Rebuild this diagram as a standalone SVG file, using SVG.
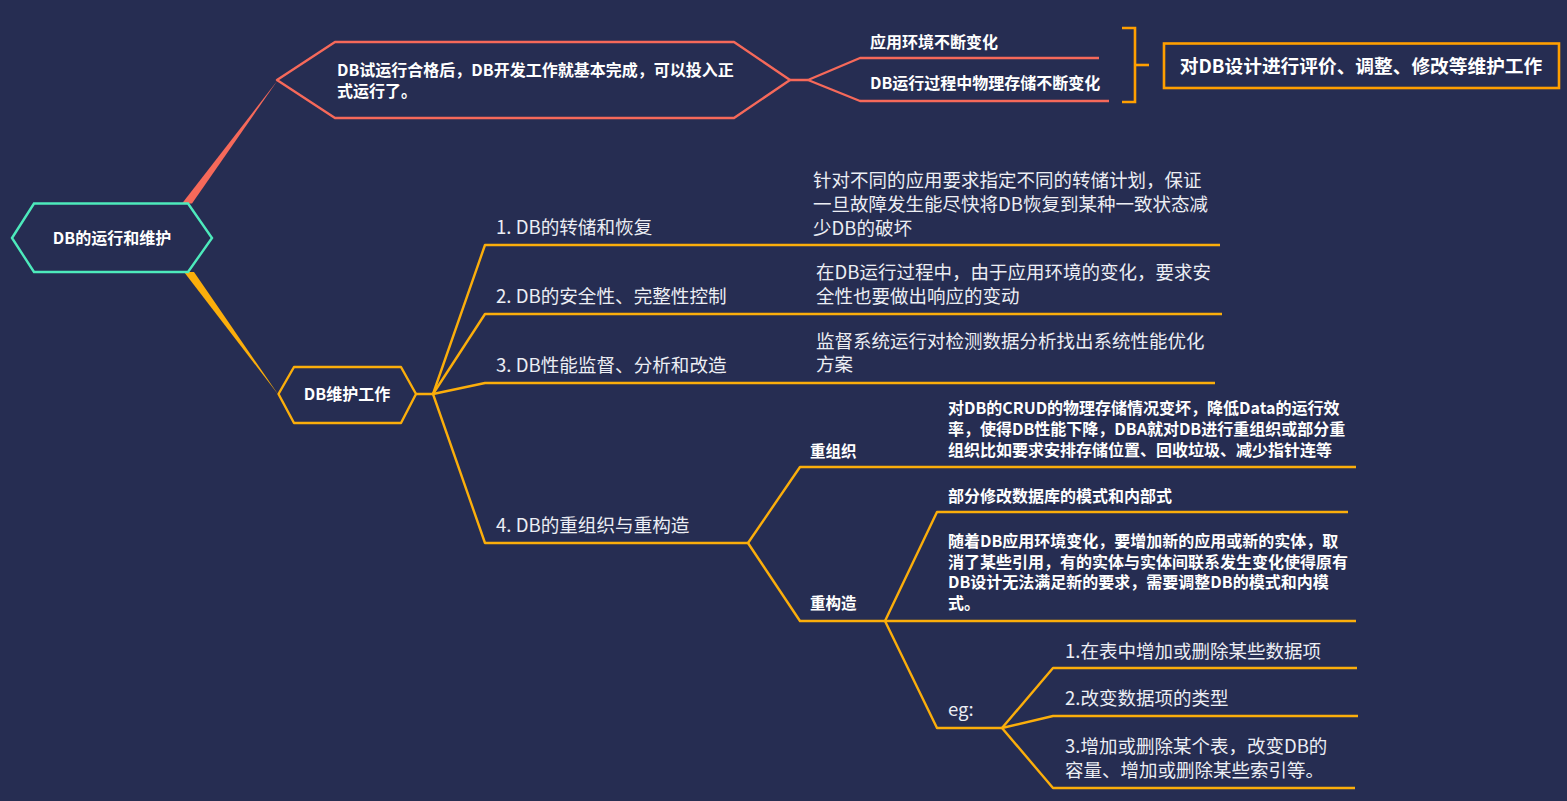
<svg xmlns="http://www.w3.org/2000/svg" width="1567" height="801" viewBox="0 0 1567 801">
<style>
.t{font-family:'Noto Sans CJK SC','Noto Sans',sans-serif;fill:#ffffff}
.b{font-weight:700}
.r{fill:#eceef4}
.ol{fill:none;stroke:#fbae0b;stroke-width:2.4;stroke-linejoin:round}
.rl{fill:none;stroke:#f6695a;stroke-width:2.4;stroke-linejoin:round}
.box{fill:none;stroke:#ff9f00;stroke-width:2.6}
</style>
<rect width="1567" height="801" fill="#262d52"/>
<g id="connectors">
<polygon points="182,203.5 192,203.5 277.5,80.5" fill="#f6695a"/>
<polygon points="184,272 194,272 278.5,395" fill="#fbae0b"/>
<polyline class="rl" points="790,80 808,80 860,58 1099,58"/>
<polyline class="rl" points="808,80 860,101 1109,101"/>
<polyline class="ol" points="416,394 433,394 485,245 1220,245"/>
<polyline class="ol" points="433,394 485,314 1222,314"/>
<polyline class="ol" points="433,394 485,383 1215,383"/>
<polyline class="ol" points="433,394 485,543 748,543"/>
<polyline class="ol" points="748,543 800,467 1356,467"/>
<polyline class="ol" points="748,543 800,621 1356,621"/>
<polyline class="ol" points="885,621 937,512 1348,512"/>
<polyline class="ol" points="885,621 937,728 1002,728"/>
<polyline class="ol" points="1002,728 1053,668 1357,668"/>
<polyline class="ol" points="1002,728 1053,716 1358,716"/>
<polyline class="ol" points="1002,728 1053,788 1355,788"/>
<polyline class="box" points="1122,28 1135,28 1135,102 1122,102"/>
<line class="box" x1="1135" y1="65" x2="1149" y2="65"/>
</g>
<g id="root">
<polygon points="12,238 34,203.5 188,203.5 212,238 188,272 34,272" fill="#262d52" stroke="#4deabc" stroke-width="2.4"/>
<text class="t b" x="112" y="243.5" font-size="16" text-anchor="middle">DB的运行和维护</text>
</g>
<g id="trial">
<polygon points="277,80 335,42 734,42 790,80 734,118 335,118" fill="#262d52" class="rl"/>
<text class="t b" x="337" y="75.5" font-size="16">DB试运行合格后，DB开发工作就基本完成，可以投入正</text>
<text class="t b" x="337" y="96.5" font-size="16">式运行了。</text>
</g>
<g id="env">
<text class="t b" x="870" y="48" font-size="16">应用环境不断变化</text>
</g>
<g id="storage">
<text class="t b" x="870" y="89" font-size="16">DB运行过程中物理存储不断变化</text>
</g>
<g id="maint-box">
<rect x="1164" y="43.5" width="395" height="44.5" class="box"/>
<text class="t b" x="1361" y="72.5" font-size="18.7" text-anchor="middle">对DB设计进行评价、调整、修改等维护工作</text>
</g>
<g id="maint">
<polygon points="278.5,394 294,367 401,367 416,394 401,423 294,423" fill="#262d52" class="ol"/>
<text class="t b" x="347" y="399.5" font-size="16" text-anchor="middle">DB维护工作</text>
</g>
<g id="item1">
<text class="t r" x="496" y="234" font-size="18.6">1. DB的转储和恢复</text>
</g>
<g id="desc1">
<text class="t r" x="813" y="186.5" font-size="18.5">针对不同的应用要求指定不同的转储计划，保证</text>
<text class="t r" x="813" y="210.5" font-size="18.5">一旦故障发生能尽快将DB恢复到某种一致状态减</text>
<text class="t r" x="813" y="234.5" font-size="18.5">少DB的破坏</text>
</g>
<g id="item2">
<text class="t r" x="496" y="302.5" font-size="18.6">2. DB的安全性、完整性控制</text>
</g>
<g id="desc2">
<text class="t r" x="816" y="279" font-size="18.5">在DB运行过程中，由于应用环境的变化，要求安</text>
<text class="t r" x="816" y="302.5" font-size="18.5">全性也要做出响应的变动</text>
</g>
<g id="item3">
<text class="t r" x="496" y="371.5" font-size="18.6">3. DB性能监督、分析和改造</text>
</g>
<g id="desc3">
<text class="t r" x="816" y="348" font-size="18.5">监督系统运行对检测数据分析找出系统性能优化</text>
<text class="t r" x="816" y="370.5" font-size="18.5">方案</text>
</g>
<g id="item4">
<text class="t r" x="496" y="531.5" font-size="18.6">4. DB的重组织与重构造</text>
</g>
<g id="reorg">
<text class="t b" x="810" y="456.5" font-size="15.5">重组织</text>
</g>
<g id="reorg-desc">
<text class="t b" x="948" y="413.5" font-size="16">对DB的CRUD的物理存储情况变坏，降低Data的运行效</text>
<text class="t b" x="948" y="434.5" font-size="16">率，使得DB性能下降，DBA就对DB进行重组织或部分重</text>
<text class="t b" x="948" y="455.5" font-size="16">组织比如要求安排存储位置、回收垃圾、减少指针连等</text>
</g>
<g id="restruct">
<text class="t b" x="810" y="609" font-size="15.5">重构造</text>
</g>
<g id="restruct-a">
<text class="t b" x="948" y="502" font-size="16">部分修改数据库的模式和内部式</text>
</g>
<g id="restruct-b">
<text class="t b" x="948" y="547" font-size="16">随着DB应用环境变化，要增加新的应用或新的实体，取</text>
<text class="t b" x="948" y="567.5" font-size="16">消了某些引用，有的实体与实体间联系发生变化使得原有</text>
<text class="t b" x="948" y="588" font-size="16">DB设计无法满足新的要求，需要调整DB的模式和内模</text>
<text class="t b" x="948" y="608.5" font-size="16">式。</text>
</g>
<g id="eg">
<text class="t r" x="948" y="716" font-size="18.5">eg:</text>
</g>
<g id="eg1">
<text class="t r" x="1065" y="658" font-size="18.5">1.在表中增加或删除某些数据项</text>
</g>
<g id="eg2">
<text class="t r" x="1065" y="704.5" font-size="18.5">2.改变数据项的类型</text>
</g>
<g id="eg3">
<text class="t r" x="1065" y="753" font-size="18.5">3.增加或删除某个表，改变DB的</text>
<text class="t r" x="1065" y="776.5" font-size="18.5">容量、增加或删除某些索引等。</text>
</g>
</svg>
